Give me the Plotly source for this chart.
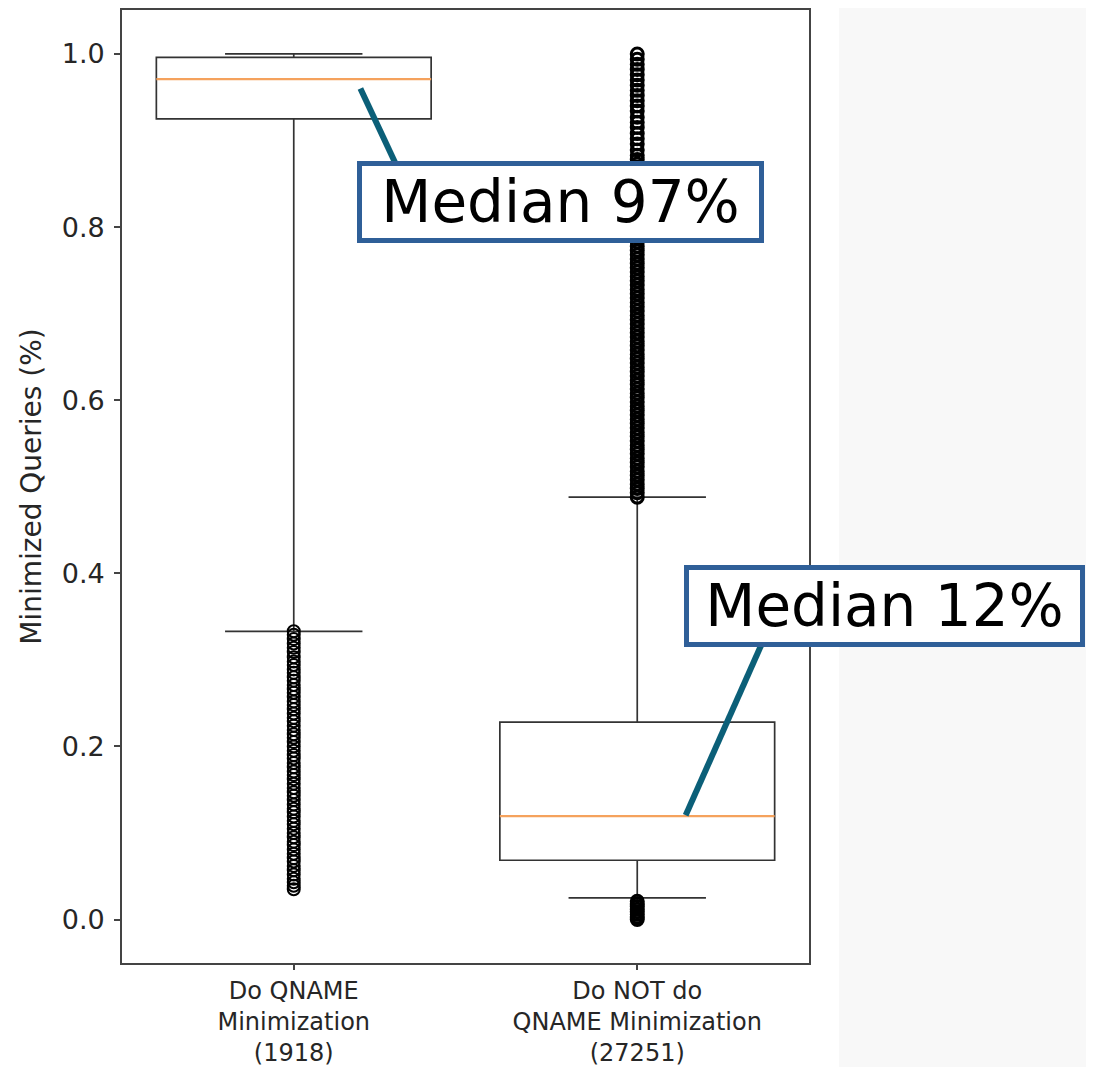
import plotly.graph_objects as go

# ---- data ----
positions = [1, 2]
categories = ["Do QNAME<br>Minimization<br>(1918)", "Do NOT do<br>QNAME Minimization<br>(27251)"]
q1 = [0.925, 0.0685]
median = [0.971, 0.1194]
q3 = [0.996, 0.228]
lower_whisker = [0.333, 0.025]
upper_whisker = [1.0, 0.488]

outliers_do = [0.333, 0.329, 0.324, 0.319, 0.314, 0.309, 0.303, 0.298, 0.294, 0.289,
               0.285, 0.280, 0.276, 0.271, 0.266, 0.262, 0.257, 0.252, 0.248, 0.243,
               0.238, 0.233, 0.229, 0.224, 0.219, 0.214, 0.210, 0.205, 0.200, 0.195,
               0.190, 0.186, 0.181, 0.176, 0.171, 0.167, 0.162, 0.157, 0.152, 0.147,
               0.143, 0.138, 0.133, 0.128, 0.124, 0.119, 0.114, 0.110, 0.105, 0.100,
               0.095, 0.090, 0.086, 0.081, 0.076, 0.071, 0.067, 0.062, 0.057, 0.052,
               0.047, 0.043, 0.039, 0.035]

outliers_not = [0.000, 0.003, 0.006, 0.009, 0.012, 0.015, 0.018, 0.021,
                0.488, 0.493, 0.498, 0.503, 0.508, 0.513, 0.518, 0.523, 0.528, 0.533,
                0.538, 0.543, 0.548, 0.553, 0.558, 0.563, 0.568, 0.573, 0.578, 0.583,
                0.588, 0.593, 0.598, 0.603, 0.608, 0.613, 0.618, 0.623, 0.628, 0.633,
                0.638, 0.643, 0.648, 0.653, 0.658, 0.663, 0.668, 0.673, 0.678, 0.683,
                0.688, 0.693, 0.698, 0.703, 0.708, 0.713, 0.718, 0.723, 0.728, 0.733,
                0.738, 0.743, 0.748, 0.753, 0.758, 0.763, 0.768, 0.773, 0.778, 0.783,
                0.788, 0.793, 0.798, 0.803, 0.808, 0.813, 0.818, 0.823, 0.828, 0.833,
                0.838, 0.843, 0.848, 0.853, 0.858, 0.863, 0.868, 0.873, 0.878, 0.883,
                0.889, 0.896, 0.902, 0.908, 0.915, 0.921, 0.927, 0.934, 0.940, 0.946,
                0.952, 0.958, 0.964, 0.970, 0.976, 0.982, 0.988, 0.994, 1.000]

y_ticks = [0.0, 0.2, 0.4, 0.6, 0.8, 1.0]
y_tick_labels = ["0.0", "0.2", "0.4", "0.6", "0.8", "1.0"]
annot_texts = ["Median 97%", "Median 12%"]

# ---- style ----
BOX_W = 0.8
LINE_C = "#333333"
MED_C = "#f5a25d"
ANN_BORDER = "#2f5f98"
ANN_LINE = "#0b5f78"
FONT = "DejaVu Sans"
TXT_C = "#262626"

fig = go.Figure()

for i, p in enumerate(positions):
    fig.add_trace(go.Box(
        x=[p], q1=[q1[i]], median=[median[i]], q3=[q3[i]],
        lowerfence=[lower_whisker[i]], upperfence=[upper_whisker[i]],
        width=BOX_W, whiskerwidth=0.5, fillcolor="white",
        line=dict(color=LINE_C, width=1.7), boxpoints=False,
        hoverinfo="skip", showlegend=False,
    ))

# median lines in orange
for i, p in enumerate(positions):
    fig.add_trace(go.Scatter(
        x=[p - BOX_W / 2, p + BOX_W / 2], y=[median[i], median[i]],
        mode="lines", line=dict(color=MED_C, width=2.2),
        hoverinfo="skip", showlegend=False,
    ))

# outliers
for p, vals, lw in zip(positions, [outliers_do, outliers_not], [2.0, 3.0]):
    fig.add_trace(go.Scatter(
        x=[p] * len(vals), y=vals, mode="markers",
        marker=dict(symbol="circle-open", size=12, color="black",
                    line=dict(width=lw, color="black")),
        hoverinfo="skip", showlegend=False,
    ))

# gray panel at right side
fig.add_shape(type="rect", xref="paper", yref="paper",
              x0=1.0437, x1=1.5, y0=-0.2, y1=1.2,
              fillcolor="#f8f8f8", line=dict(width=0), layer="below")

# connector lines
fig.add_shape(type="line", x0=1.194, y0=0.960, x1=1.298, y1=0.872,
              line=dict(color=ANN_LINE, width=6), layer="above")
fig.add_shape(type="line", x0=2.141, y0=0.1205, x1=2.362, y1=0.318,
              line=dict(color=ANN_LINE, width=6), layer="above")

# annotation boxes (paper coordinates)
for txt, ax, ay, w in zip(annot_texts, [0.6376, 1.1099], [0.7985, 0.3744], [397, 391]):
    fig.add_annotation(
        x=ax, y=ay, xref="paper", yref="paper", text=txt, showarrow=False,
        xanchor="center", yanchor="middle",
        font=dict(family=FONT, size=58, color="black"),
        bgcolor="white", bordercolor=ANN_BORDER, borderwidth=5, borderpad=0,
        width=w, height=72, align="center", valign="middle",
    )

fig.update_layout(
    width=1086, height=1059,
    margin=dict(l=114, r=285, t=2, b=104, autoexpand=False),
    paper_bgcolor="white", plot_bgcolor="white",
    font=dict(family=FONT, color=TXT_C),
    showlegend=False,
)
fig.update_xaxes(
    range=[0.5, 2.5], tickmode="array", tickvals=positions, ticktext=categories,
    tickfont=dict(size=24, family=FONT, color=TXT_C),
    ticks="outside", ticklen=5, tickcolor="#444", tickwidth=1.5,
    showline=True, linecolor="#444", linewidth=1.6, mirror=True,
    showgrid=False, zeroline=False, automargin=False,
)
fig.update_yaxes(
    range=[-0.0502, 1.0508], tickmode="array", tickvals=y_ticks, ticktext=y_tick_labels,
    tickfont=dict(size=27, family=FONT, color=TXT_C),
    ticks="outside", ticklen=6, tickcolor="#444", tickwidth=1.5,
    showline=True, linecolor="#444", linewidth=1.6, mirror=True,
    showgrid=False, zeroline=False, automargin=False, ticklabelstandoff=4,
    title=dict(text="Minimized Queries (%)", font=dict(size=28, family=FONT, color=TXT_C),
               standoff=12),
)

fig.write_html("out.html")
